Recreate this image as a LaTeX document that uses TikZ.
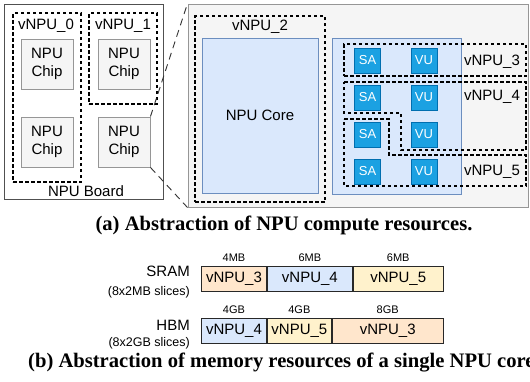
\documentclass[tikz,border=0pt]{standalone}
\usepackage{fontspec}
\setmainfont{Liberation Sans}
\newfontfamily\capfont{Liberation Serif}
\usetikzlibrary{positioning}
\definecolor{boardline}{RGB}{80, 80, 80}
\definecolor{chipline}{RGB}{150, 150, 150}
\definecolor{chipfill}{RGB}{245, 245, 245}
\definecolor{coreline}{RGB}{108, 142, 191}
\definecolor{corefill}{RGB}{218, 232, 252}
\definecolor{unitline}{RGB}{0, 110, 175}
\definecolor{unitfill}{RGB}{27, 161, 226}
\definecolor{memorange}{RGB}{255, 230, 204}
\definecolor{memblue}{RGB}{218, 232, 252}
\definecolor{memyellow}{RGB}{255, 242, 204}
\definecolor{segline}{RGB}{40, 40, 40}
\tikzset{
    board/.style={rectangle, draw=boardline, fill=white, line width=1pt, inner sep=0pt},
    chip/.style={rectangle, draw=chipline, fill=chipfill, line width=0.9pt, minimum width=52, minimum height=50, align=center, inner sep=0pt, font=\fontsize{15}{18}\selectfont},
    core/.style={rectangle, draw=coreline, fill=corefill, line width=0.9pt, inner sep=0pt, font=\fontsize{15}{18}\selectfont},
    unit/.style={rectangle, draw=unitline, fill=unitfill, text=white, line width=0.8pt, minimum width=26, minimum height=25, inner sep=0pt, font=\fontsize{13}{13}\selectfont},
    vbox/.style={rectangle, draw=black, dash pattern=on 3.5pt off 2.5pt, line width=1.1pt, inner sep=0pt},
    vline/.style={draw=black, dash pattern=on 3.5pt off 2.5pt, line width=1.1pt},
    vlabel/.style={inner sep=0pt, font=\fontsize{15}{18}\selectfont},
    zoomline/.style={draw=black!80, dash pattern=on 7pt off 5pt, line width=0.9pt},
    seg/.style={rectangle, draw=segline, line width=0.9pt, minimum height=25, inner sep=0pt, font=\fontsize{15}{18}\selectfont},
    size/.style={inner sep=0pt, font=\fontsize{11}{12}\selectfont},
    mem/.style={anchor=east, inner sep=0pt, font=\fontsize{15}{18}\selectfont},
    slices/.style={anchor=east, inner sep=0pt, font=\fontsize{12.5}{13}\selectfont},
    caption/.style={inner sep=0pt, font=\capfont\bfseries\fontsize{20.6}{24}\selectfont}
}
\begin{document}
\begin{tikzpicture}[x=1pt, y=-1pt]
\useasboundingbox (0,0) rectangle (530,381);
% NPU board
\node (board) [board, minimum width=159, minimum height=195] at (83.5,101.5) {};
\node (chip1) [chip] at (47,64) {NPU\\Chip};
\node (chip2) [chip] at (124,64) {NPU\\Chip};
\node (chip3) [chip] at (47,142) {NPU\\Chip};
\node (chip4) [chip] at (124,142) {NPU\\Chip};
\node (v0) [vbox, minimum width=68, minimum height=169] at (47,97.5) {};
\node (v1) [vbox, minimum width=68, minimum height=91] at (123,58.5) {};
\node (v0label) [vlabel] at (46,26) {vNPU\_0};
\node (v1label) [vlabel] at (123,26) {vNPU\_1};
\node (boardlabel) [vlabel] at (86,191) {NPU Board};

% zoomed chip
\node (chipview) [rectangle, draw=chipline, fill=chipfill, line width=1pt, minimum width=340, minimum height=203, inner sep=0pt] at (358,105.5) {};
\draw [zoomline] (chip4.north east) -- (chipview.north west);
\draw [zoomline] (chip4.south east) -- (chipview.south west);
\node (v2) [vbox, minimum width=130, minimum height=186] at (260,109) {};
\node (v2label) [vlabel] at (260,27) {vNPU\_2};
\node (npucore) [core, minimum width=116, minimum height=155] at (260,115.5) {NPU Core};
\node (splitcore) [core, minimum width=129, minimum height=156] at (396.5,116) {};
\foreach \row/\y in {1/60.5, 2/97.5, 3/134.5, 4/171.5} {
    \node (sa\row) [unit] at (367.5,\y) {SA};
    \node (vu\row) [unit] at (424,\y) {VU};
}
\node (v3) [vbox, minimum width=182, minimum height=32] at (435,60) {};
\draw [vline] (344,82) -- (526,82) -- (526,150) -- (401,150) -- (401,113) -- (344,113) -- cycle;
\draw [vline] (344,119) -- (389,119) -- (389,155) -- (526,155) -- (526,186) -- (344,186) -- cycle;
\node (v3label) [vlabel] at (492,62) {vNPU\_3};
\node (v4label) [vlabel] at (492,97) {vNPU\_4};
\node (v5label) [vlabel] at (492,172) {vNPU\_5};

\node (capa) [caption] at (284,225) {(a) Abstraction of NPU compute resources.};

% memory slices
\node (sram) [mem] at (190,271) {SRAM};
\node (sramslices) [slices] at (190,292) {(8x2MB slices)};
\node (hbm) [mem] at (190,325) {HBM};
\node (hbmslices) [slices] at (190,343) {(8x2GB slices)};

\node (s3) [seg, fill=memorange, minimum width=65, anchor=west] at (201,279) {vNPU\_3};
\node (s4) [seg, fill=memblue, minimum width=85, right=0pt of s3] {vNPU\_4};
\node (s5) [seg, fill=memyellow, minimum width=90, right=0pt of s4] {vNPU\_5};
\node (h4) [seg, fill=memblue, minimum width=65, anchor=west] at (201,330.5) {vNPU\_4};
\node (h5) [seg, fill=memyellow, minimum width=64, right=0pt of h4] {vNPU\_5};
\node (h3) [seg, fill=memorange, minimum width=111, right=0pt of h5] {vNPU\_3};
\node [size, above=4pt of s3] {4MB};
\node [size, above=4pt of s4] {6MB};
\node [size, above=4pt of s5] {6MB};
\node [size, above=4pt of h4] {4GB};
\node [size, above=4pt of h5] {4GB};
\node [size, above=4pt of h3] {8GB};

\node (capb) [caption, anchor=west] at (28,363) {(b) Abstraction of memory resources of a single NPU core.};
\end{tikzpicture}
\end{document}
